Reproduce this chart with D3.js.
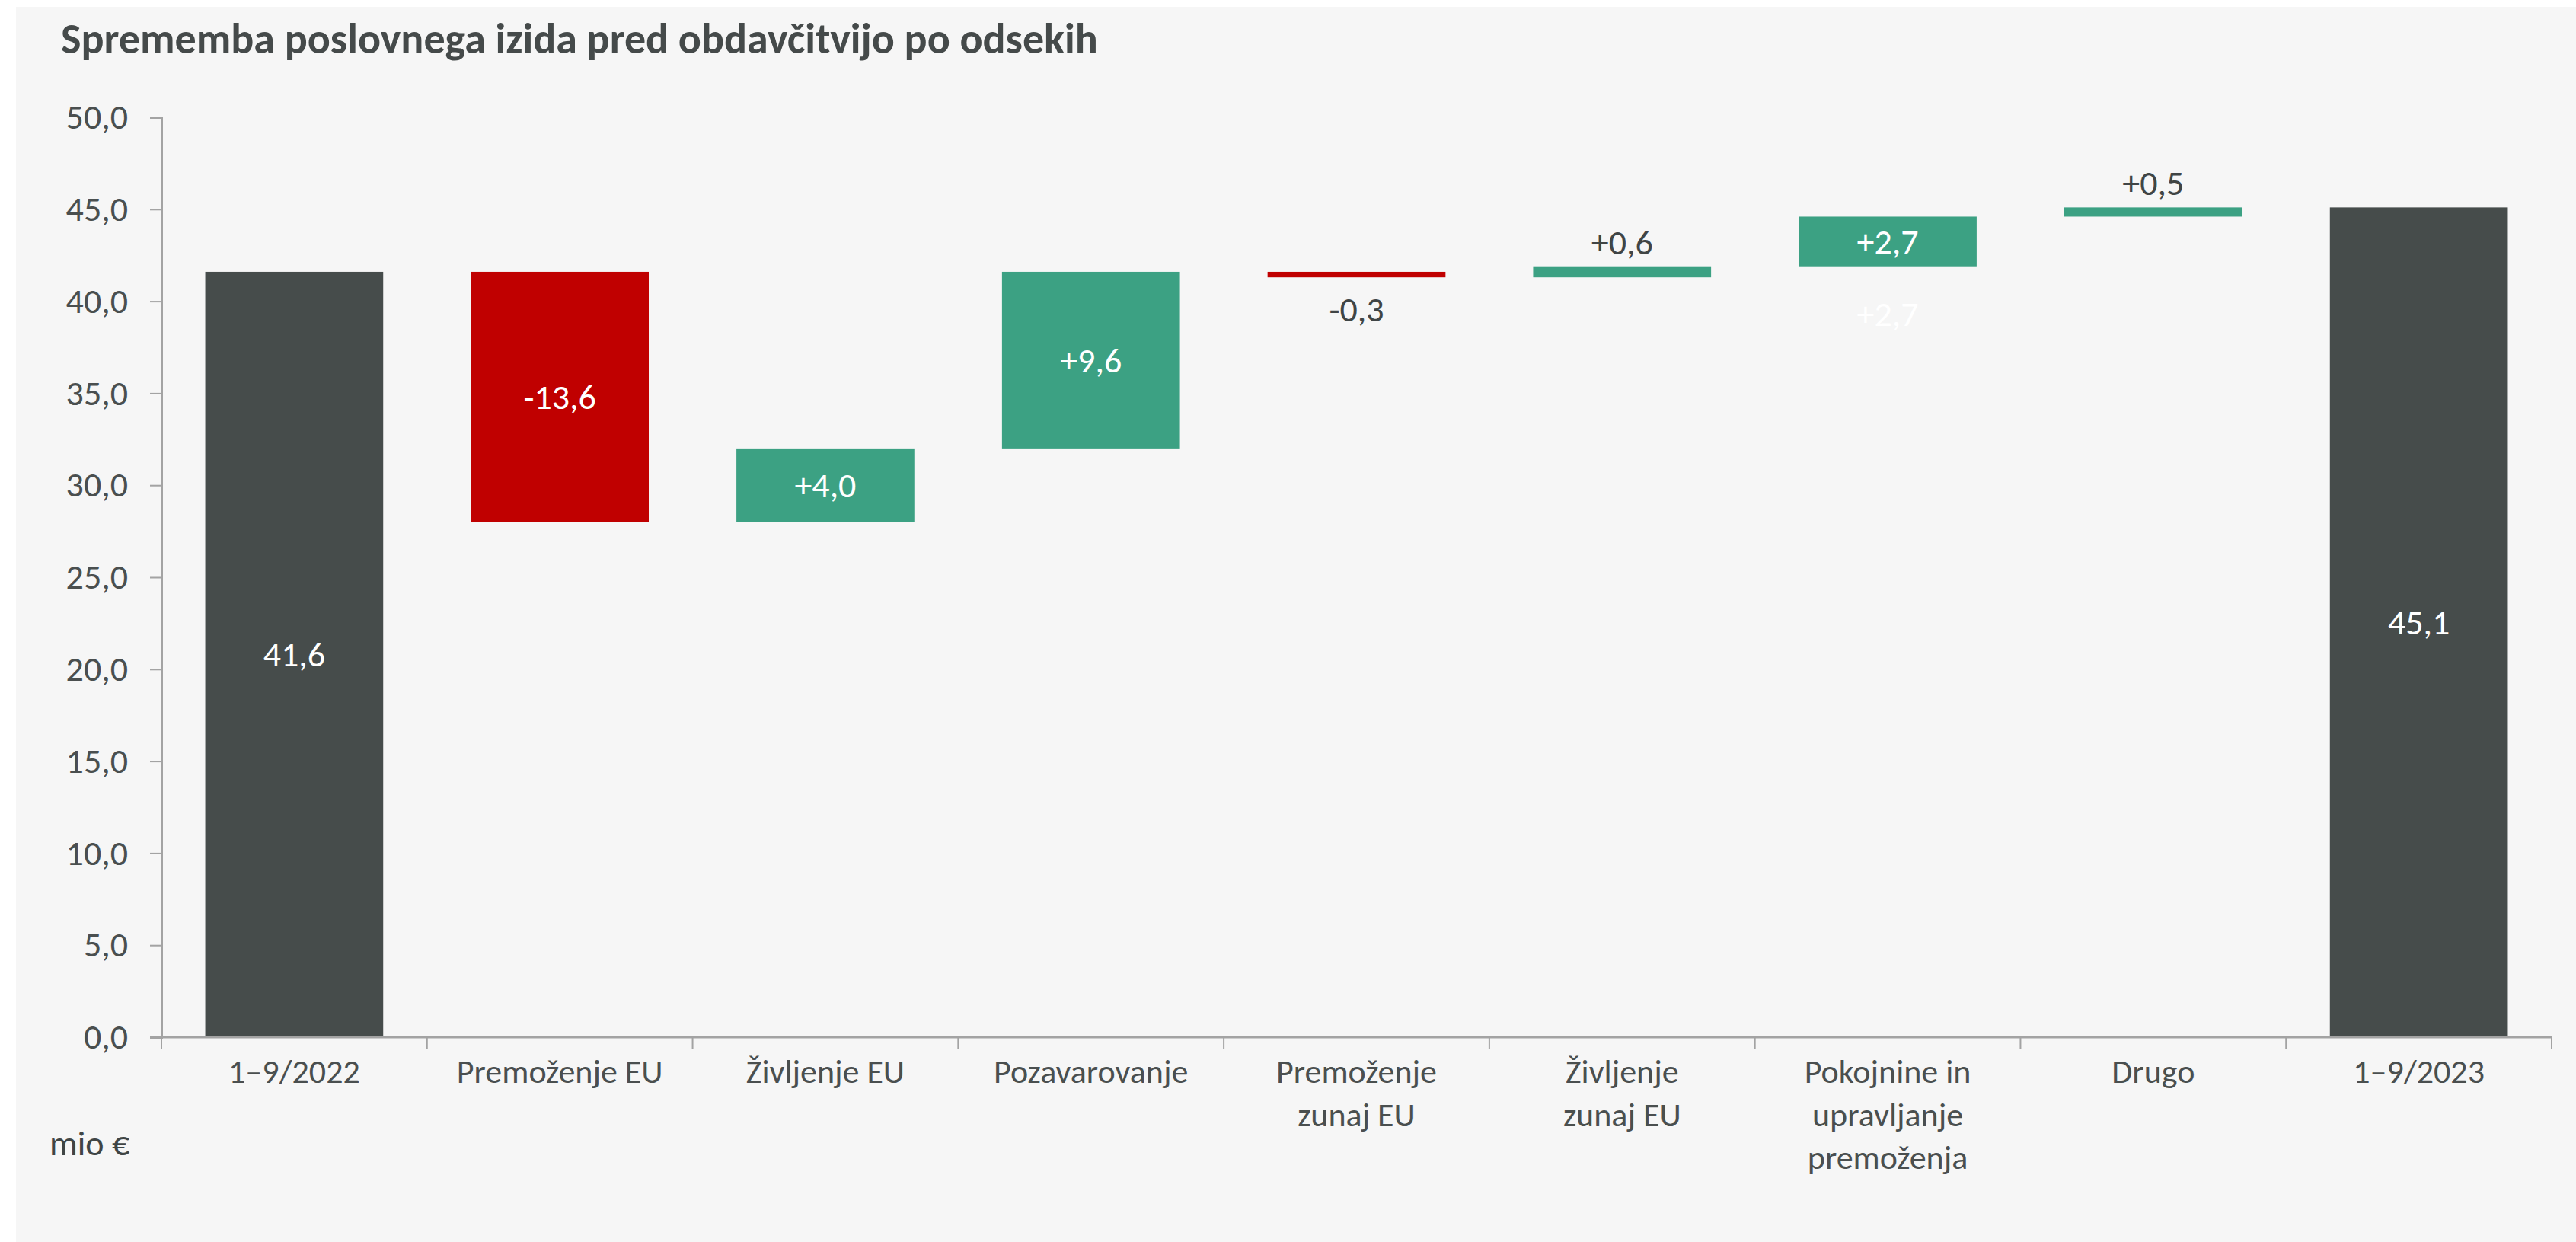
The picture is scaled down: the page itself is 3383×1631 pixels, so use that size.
<!DOCTYPE html>
<meta charset="utf-8">
<style>
body { margin: 0; background: #fff; }
svg { display: block; }
text { font-family: Carlito, Calibri, "Open Sans", sans-serif; }
.title { font-weight: bold; fill: #454a4a; }
.axis text { fill: #4a4f4f; }
.axis path, .axis line { stroke: #a3a3a3; }
</style>
<svg width="3383" height="1631"></svg>
<script src="https://d3js.org/d3.v7.min.js"></script>
<script>

// chart values (mio €)
var categories = ["1–9/2022", "Premoženje EU", "Življenje EU", "Pozavarovanje",
                  "Premoženje zunaj EU", "Življenje zunaj EU",
                  "Pokojnine in upravljanje premoženja", "Drugo", "1–9/2023"];
var changes = [41.6, -13.6, 4.0, 9.6, -0.3, 0.6, 2.7, 0.5, 45.1];
var isTotal = [true, false, false, false, false, false, false, false, true];
var labelLines = [["1–9/2022"], ["Premoženje EU"], ["Življenje EU"], ["Pozavarovanje"],
                  ["Premoženje", "zunaj EU"], ["Življenje", "zunaj EU"],
                  ["Pokojnine in", "upravljanje", "premoženja"], ["Drugo"], ["1–9/2023"]];
var yTicks = [0, 5, 10, 15, 20, 25, 30, 35, 40, 45, 50];

var svg = d3.select("svg"),
    width = +svg.attr("width"),
    height = +svg.attr("height");

var colTotal = "#464c4b", colUp = "#3ca183", colDown = "#c00000", colText = "#404545";
var fmt = function(v) { return d3.format(".1f")(v).replace(".", ",").replace("−", "-"); };

// waterfall steps
var running = 0;
var steps = categories.map(function(c, i) {
  var d = {cat: c, value: changes[i], total: isTotal[i]};
  if (d.total) { d.y0 = 0; d.y1 = d.value; running = d.value; }
  else { d.y0 = running; d.y1 = running + d.value; running = d.y1; }
  return d;
});

svg.append("rect")
    .attr("x", 21).attr("y", 9)
    .attr("width", width - 21).attr("height", height - 9)
    .attr("fill", "#f6f6f6");

svg.append("text")
    .attr("class", "title")
    .attr("x", 80).attr("y", 70)
    .style("font-size", "56px")
    .text("Sprememba poslovnega izida pred obdavčitvijo po odsekih");

var x = d3.scaleBand()
    .domain(categories)
    .range([212, 3351])
    .paddingInner(0.33)
    .paddingOuter(0.165);

var y = d3.scaleLinear()
    .domain([0, 50])
    .range([1362, 154]);

// y axis
var yAxis = svg.append("g")
    .attr("class", "axis")
    .attr("transform", "translate(212,0)")
    .call(d3.axisLeft(y).tickValues(yTicks).tickFormat(fmt).tickSize(15).tickPadding(29));
yAxis.select(".domain").attr("stroke-width", 3);
yAxis.selectAll(".tick line").attr("stroke-width", 2);
yAxis.selectAll("text").style("font-size", "46px");

// bars
svg.selectAll(".bar")
  .data(steps)
  .enter().append("rect")
    .attr("class", "bar")
    .attr("x", function(d) { return x(d.cat); })
    .attr("width", x.bandwidth())
    .attr("y", function(d) { return y(Math.max(d.y0, d.y1)); })
    .attr("height", function(d) { return Math.abs(y(d.y0) - y(d.y1)); })
    .attr("fill", function(d) { return d.total ? colTotal : (d.value < 0 ? colDown : colUp); });

// x axis: line with ticks at category boundaries
var xAxis = svg.append("g")
    .attr("class", "axis")
    .attr("transform", "translate(0," + y(0) + ")");
xAxis.append("line")
    .attr("x1", 197).attr("x2", x.range()[1])
    .attr("stroke-width", 3);
var bounds = d3.range(categories.length + 1).map(function(i) { return x.range()[0] + i * x.step(); });
xAxis.selectAll(".bound")
  .data(bounds)
  .enter().append("line")
    .attr("class", "bound")
    .attr("x1", function(d) { return d; }).attr("x2", function(d) { return d; })
    .attr("y1", 0).attr("y2", 15)
    .attr("stroke-width", 2);

var xl = xAxis.selectAll(".xlabel")
  .data(steps)
  .enter().append("text")
    .attr("class", "xlabel")
    .attr("text-anchor", "middle")
    .attr("transform", function(d) { return "translate(" + (x(d.cat) + x.bandwidth() / 2) + ",60)"; })
    .style("font-size", "44px");
xl.selectAll("tspan")
  .data(function(d, i) { return labelLines[i]; })
  .enter().append("tspan")
    .attr("x", 0)
    .attr("y", function(d, i) { return i * 56.5; })
    .text(function(d) { return d; });

// value labels
svg.selectAll(".vlabel")
  .data(steps)
  .enter().append("text")
    .attr("class", "vlabel")
    .attr("text-anchor", "middle")
    .attr("dominant-baseline", "central")
    .style("font-size", "46px")
    .attr("x", function(d) { return x(d.cat) + x.bandwidth() / 2; })
    .attr("y", function(d) {
      var top = y(Math.max(d.y0, d.y1)), bot = y(Math.min(d.y0, d.y1));
      if (bot - top > 50) return (top + bot) / 2;
      return d.value < 0 ? bot + 42 : top - 32;
    })
    .attr("fill", function(d) {
      var h = Math.abs(y(d.y0) - y(d.y1));
      return h > 50 ? "#fff" : colText;
    })
    .text(function(d) { return (d.total ? "" : (d.value > 0 ? "+" : "")) + fmt(d.value); });

// faint duplicate label seen below the pension bar in the original
var dup = steps[6];
svg.append("text")
    .attr("text-anchor", "middle")
    .attr("dominant-baseline", "central")
    .style("font-size", "46px")
    .attr("fill", "#fff")
    .attr("x", x(dup.cat) + x.bandwidth() / 2)
    .attr("y", y(dup.y0) + 62)
    .text("+" + fmt(dup.value));

svg.append("text")
    .attr("x", 65).attr("y", 1517)
    .attr("fill", colText)
    .style("font-size", "46px")
    .text("mio €");

</script>
